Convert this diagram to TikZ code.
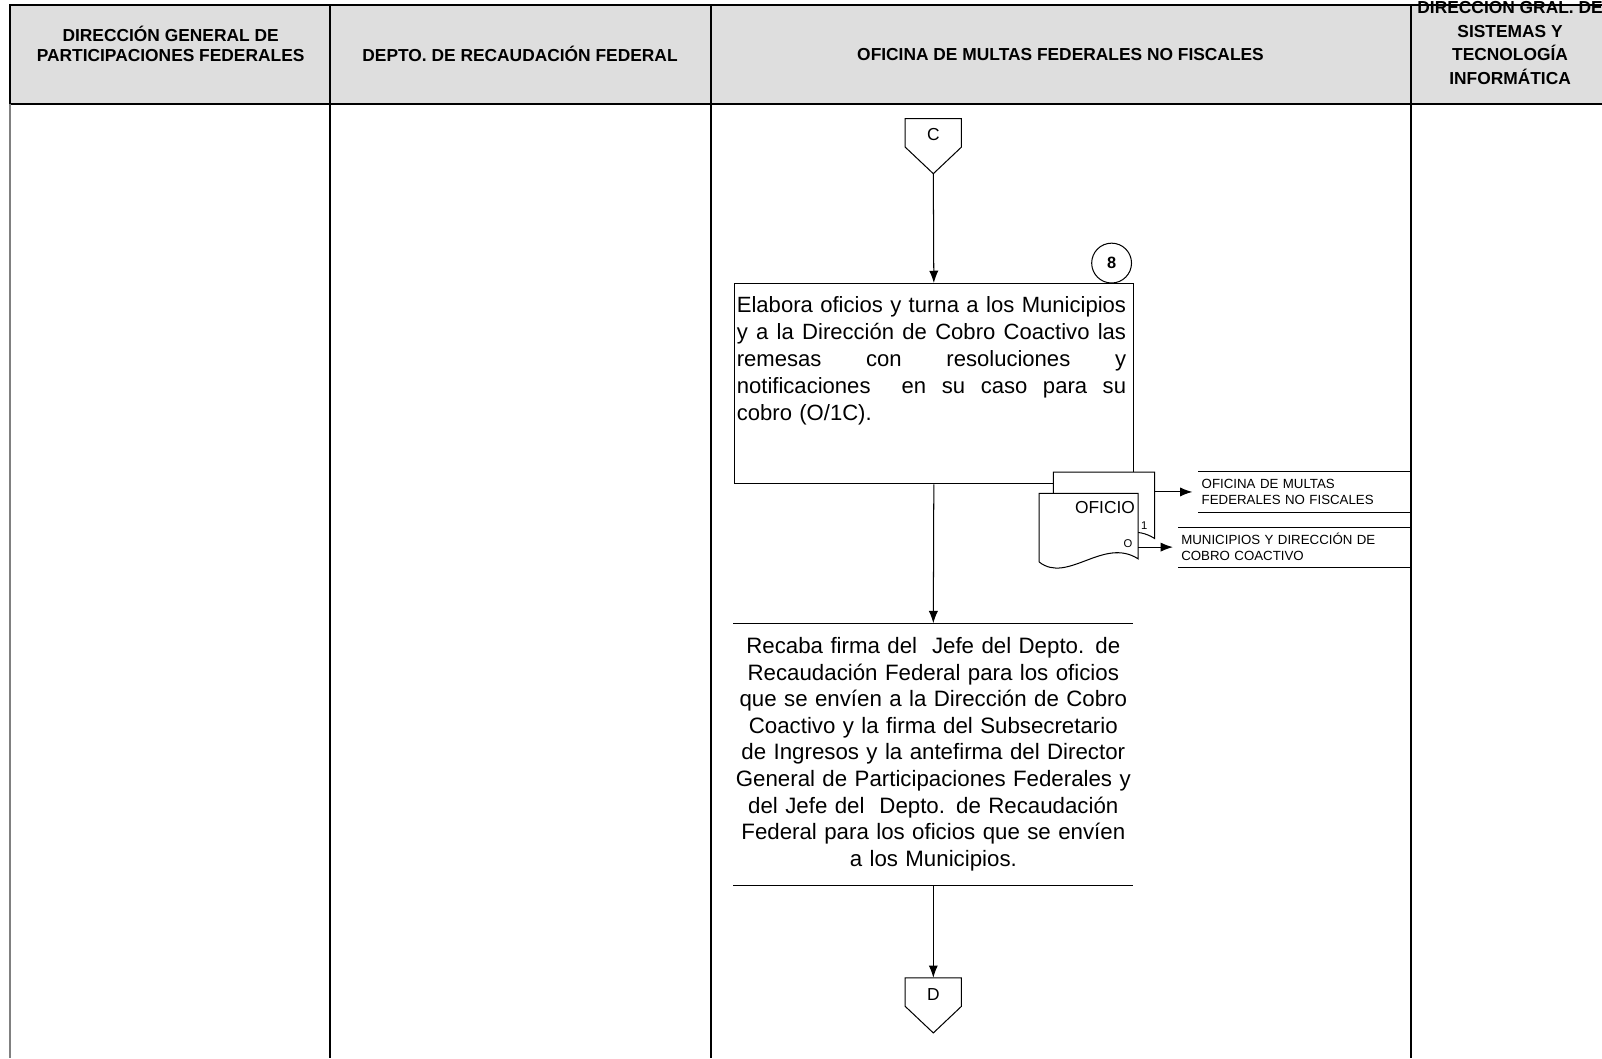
\documentclass[tikz,border=0pt]{standalone}
\usepackage{fontspec}
\setmainfont{Liberation Sans}
\usetikzlibrary{arrows.meta}
\definecolor{headgray}{RGB}{222,222,222}
\tikzstyle{lanehead} = [font=\fontsize{17}{20}\selectfont\bfseries, align=center, inner sep=0pt]
\tikzstyle{process} = [draw=black, line width=1pt, rectangle, inner sep=0pt]
\tikzstyle{flow} = [line width=1pt, -{Latex[length=12pt,width=9pt]}]
\tikzstyle{destino} = [font=\fontsize{13}{16}\selectfont, align=left, inner xsep=3pt, inner ysep=0pt, anchor=west]
\tikzstyle{conector} = [font=\fontsize{17}{17}\selectfont, inner sep=0pt]
\newcommand{\lineajust}[1]{\makebox[381pt][s]{\spaceskip=0.28em plus 1fil\relax #1}}

\begin{document}
\begin{tikzpicture}[x=1pt, y=-1pt]
                \useasboundingbox (0,0) rectangle (1568,1036);
                % encabezados de carriles
                \fill[headgray] (10,5) rectangle (1568,102);
                \draw[line width=2pt] (1568,5) -- (10,5) -- (10,102) -- (1568,102);
                \draw[line width=1.5pt, gray] (10,102) -- (10,1036);
                \foreach \x in {323,696,1381}
                    \draw[line width=1.5pt] (\x,5) -- (\x,1036);
                \node[lanehead] (hDGPF) at (167,43) {DIRECCIÓN GENERAL DE\\PARTICIPACIONES FEDERALES};
                \node[lanehead] (hDRF) at (509,53) {DEPTO. DE RECAUDACIÓN FEDERAL};
                \node[lanehead] (hOMF) at (1038,53) {OFICINA DE MULTAS FEDERALES NO FISCALES};
                \node[lanehead, font=\fontsize{17}{23}\selectfont\bfseries] (hDGSTI) at (1478,40.5) {DIRECCIÓN GRAL. DE\\SISTEMAS Y\\TECNOLOGÍA\\INFORMÁTICA};

                % conector C
                \draw[line width=1pt] (886,116) -- (941,116) -- (941,144) -- (913.5,170) -- (886,144) -- cycle;
                \node[conector] (conC) at (913.5,132) {C};
                \coordinate (conCtip) at (913.5,170);

                % paso 8
                \node[process, minimum width=391pt, minimum height=196pt, anchor=north west] (elabora) at (718,277) {};
                \node[anchor=north west, inner sep=0pt, text width=383pt, align=left,
                      font=\fontsize{21.6}{26.5}\selectfont] (elaboraTxt) at (721,290) {%
                    \lineajust{Elabora oficios y turna a los Municipios}\\
                    \lineajust{y a la Dirección de Cobro Coactivo las}\\
                    \lineajust{remesas con resoluciones y}\\
                    \lineajust{notificaciones \ en su caso para su}\\
                    cobro (O/1C).};
                \node[draw, circle, line width=1pt, minimum size=39pt, inner sep=0pt,
                      font=\fontsize{16}{16}\selectfont\bfseries] (paso8) at (1088,257.5) {8};
                \draw[flow] (conCtip) -- (elabora.north);

                % documento OFICIO
                \filldraw[fill=white, line width=1pt] (1031,529) -- (1031,462) -- (1130,462) -- (1130,527)
                    .. controls (1096,505) and (1059,551) .. (1031,529);
                \filldraw[fill=white, line width=1pt] (1017,550) -- (1017,483) -- (1114,483) -- (1114,547)
                    .. controls (1080,525) and (1045,572) .. (1017,550);
                \node[anchor=east, inner sep=0pt, font=\fontsize{17}{17}\selectfont] (oficioTxt) at (1111,497) {OFICIO};
                \node[inner sep=0pt, font=\fontsize{11}{11}\selectfont] (copia1) at (1120,514) {1};
                \node[inner sep=0pt, font=\fontsize{11}{11}\selectfont] (copiaO) at (1104,532) {O};
                \coordinate (docB) at (1130,481.5);
                \coordinate (docA) at (1114,535.5);

                % destinos
                \node[destino, minimum width=208pt, minimum height=39pt, text width=202pt] (dest1) at (1173,481.5)
                    {OFICINA DE MULTAS\\FEDERALES NO FISCALES};
                \draw[line width=0.8pt] (dest1.north west) -- (dest1.north east);
                \draw[line width=0.8pt] (dest1.south west) -- (dest1.south east);
                \node[destino, minimum width=228pt, minimum height=39pt, text width=222pt] (dest2) at (1153,535.5)
                    {MUNICIPIOS Y DIRECCIÓN DE\\COBRO COACTIVO};
                \draw[line width=0.8pt] (dest2.north west) -- (dest2.north east);
                \draw[line width=0.8pt] (dest2.south west) -- (dest2.south east);
                \draw[flow] (docB) -- ([xshift=-6pt]dest1.west);
                \draw[flow] (docA) -- ([xshift=-5pt]dest2.west);

                % recaba firmas
                \node[minimum width=391pt, minimum height=256pt, inner sep=0pt, anchor=north, text width=391pt,
                      align=center, font=\fontsize{21.8}{26}\selectfont] (recaba) at (913.5,610) {%
                    Recaba firma del \ Jefe del Depto. de\\
                    Recaudación Federal para los oficios\\
                    que se envíen a la Dirección de Cobro\\
                    Coactivo y la firma del Subsecretario\\
                    de Ingresos y la antefirma del Director\\
                    General de Participaciones Federales y\\
                    del Jefe del \ Depto. de Recaudación\\
                    Federal para los oficios que se envíen\\
                    a los Municipios.};
                \draw[line width=1pt] (recaba.north west) -- (recaba.north east);
                \draw[line width=1pt] (recaba.south west) -- (recaba.south east);
                \draw[flow] (elabora.south) -- (recaba.north);

                % conector D
                \draw[line width=1pt] (886,957) -- (941,957) -- (941,985) -- (913.5,1011) -- (886,985) -- cycle;
                \node[conector] (conD) at (913.5,973) {D};
                \draw[flow] (recaba.south) -- (conD.north |- 0,957);
            \end{tikzpicture}
\end{document}
